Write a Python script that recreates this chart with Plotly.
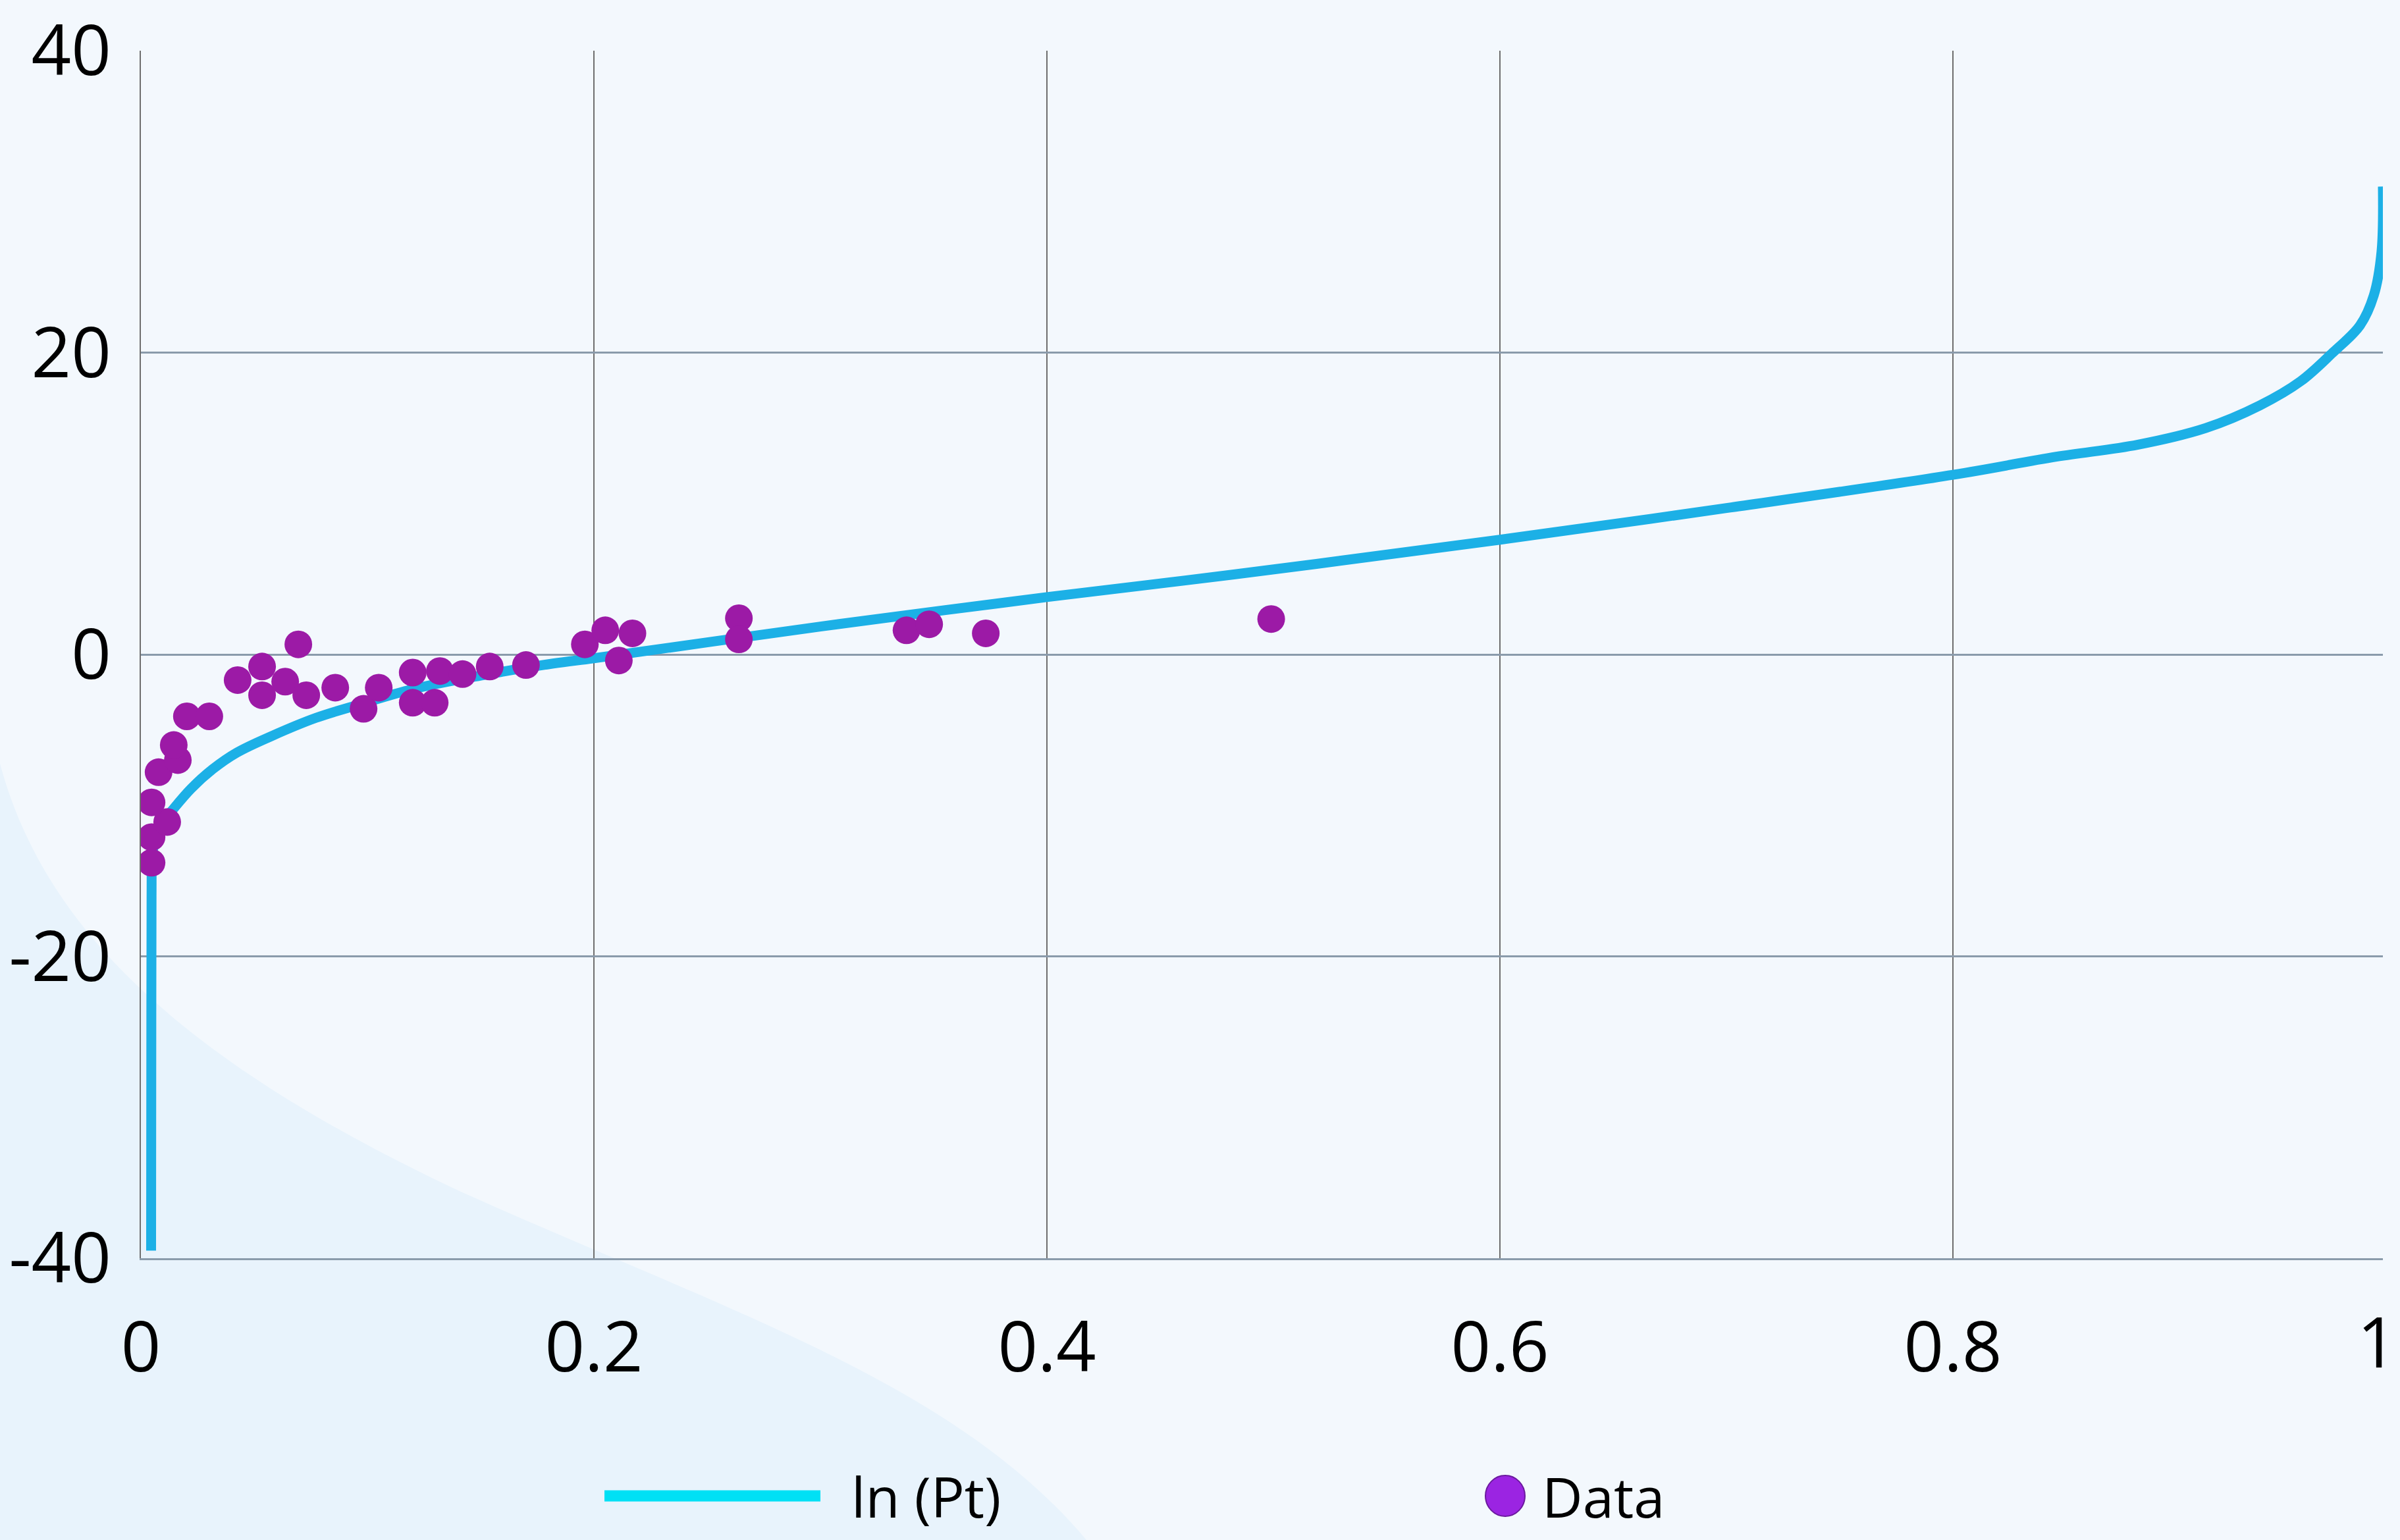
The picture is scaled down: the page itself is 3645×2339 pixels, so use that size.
import plotly.graph_objects as go

# ---- data ----
curve_x = [0.0045, 0.0046, 0.0047, 0.0050, 0.0065, 0.0090, 0.0134, 0.0221, 0.0317,
           0.0424, 0.0578, 0.0773, 0.0968, 0.12, 0.15, 0.182, 0.20, 0.25, 0.30,
           0.40, 0.461, 0.519, 0.60, 0.70, 0.80, 0.8456, 0.8817, 0.9116, 0.9355,
           0.9535, 0.9677, 0.9797, 0.9858, 0.9892, 0.9898]
curve_y = [-39.5, -25.0, -16.0, -13.5, -12.0, -11.2, -10.4, -8.9, -7.6,
           -6.5, -5.4, -4.2, -3.3, -2.3, -1.4, -0.6, -0.25, 0.8, 1.85,
           3.8, 4.9, 6.0, 7.6, 9.7, 11.9, 13.1, 13.9, 15.0, 16.5,
           18.1, 20.0, 21.8, 23.8, 26.7, 31.0]

data_x = [0.0047, 0.0047, 0.0116, 0.0047, 0.0078, 0.0163, 0.0145, 0.0203, 0.0302,
          0.0427, 0.0535, 0.0535, 0.0637, 0.0695, 0.073, 0.0858, 0.0983, 0.105,
          0.120, 0.120, 0.132, 0.1297, 0.142, 0.154, 0.170, 0.196, 0.205, 0.217,
          0.211, 0.264, 0.264, 0.338, 0.348, 0.373, 0.499]
data_y = [-13.8, -12.1, -11.1, -9.8, -7.8, -7.0, -6.0, -4.1, -4.1,
          -1.7, -0.8, -2.7, -1.8, 0.67, -2.7, -2.2, -3.6, -2.2,
          -1.2, -3.2, -1.1, -3.2, -1.3, -0.8, -0.7, 0.67, 1.6, 1.4,
          -0.4, 2.4, 1.0, 1.6, 2.0, 1.4, 2.35]

x_tick_vals = [0, 0.2, 0.4, 0.6, 0.8, 0.9898]
x_tick_text = ["0", "0.2", "0.4", "0.6", "0.8", "1"]
y_tick_vals = [-40, -20, 0, 20, 40]
y_tick_text = ["-40", "-20", "0", "20", "40"]
series_names = ["ln (Pt)", "Data"]

W, H = 3645, 2339
ML, MR, MT, MB = 214, 26, 77, 428
PW, PH = W - ML - MR, H - MT - MB
LEG_Y = 2272
XLAB_Y = 2036


def px_x(p):
    return (p - ML) / PW


def px_y(p):
    return (H - MB - p) / PH


fig = go.Figure()
fig.add_trace(go.Scatter(x=curve_x, y=curve_y, mode="lines", name=series_names[0],
                         line=dict(color="#1cb0e6", width=15, shape="spline", smoothing=1.0),
                         showlegend=False, cliponaxis=False))
fig.add_trace(go.Scatter(x=data_x, y=data_y, mode="markers", name=series_names[1],
                         marker=dict(color="#9c1aa6", size=42, line=dict(width=0)),
                         showlegend=False))

swoop = ("M {x0},{y0} C {c1x},{c1y} {c2x},{c2y} {mx},{my} "
         "C {c3x},{c3y} {c4x},{c4y} {ex},{ey} L {x0},{ey} Z").format(
    x0=px_x(0), y0=px_y(1160),
    c1x=px_x(60), c1y=px_y(1380), c2x=px_x(230), c2y=px_y(1590),
    mx=px_x(700), my=px_y(1810),
    c3x=px_x(1100), c3y=px_y(1990), c4x=px_x(1450), c4y=px_y(2100),
    ex=px_x(1650), ey=px_y(2339))

shapes = [
    dict(type="path", xref="paper", yref="paper", layer="below", path=swoop,
         fillcolor="#e8f3fc", line=dict(width=0)),
    # custom legend: line symbol
    dict(type="line", xref="paper", yref="paper",
         x0=px_x(918), x1=px_x(1246), y0=px_y(LEG_Y), y1=px_y(LEG_Y),
         line=dict(color="#00e0f5", width=17)),
    # custom legend: marker symbol
    dict(type="circle", xref="paper", yref="paper",
         x0=px_x(2256), x1=px_x(2316), y0=px_y(LEG_Y + 31), y1=px_y(LEG_Y - 31),
         fillcolor="#9b24e2", line=dict(color="#6b1a9e", width=2)),
]

annotations = [
    dict(text=series_names[0], xref="paper", yref="paper", x=px_x(1291), y=px_y(LEG_Y),
         xanchor="left", yanchor="middle", showarrow=False,
         font=dict(family="Open Sans", size=85, color="#000000")),
    dict(text=series_names[1], xref="paper", yref="paper", x=px_x(2340), y=px_y(LEG_Y),
         xanchor="left", yanchor="middle", showarrow=False,
         font=dict(family="Open Sans", size=85, color="#000000")),
    # last x tick label, kept fully inside the page at the right edge
    dict(text=x_tick_text[-1], xref="paper", yref="paper", x=px_x(W - 2), y=px_y(XLAB_Y),
         xanchor="right", yanchor="middle", showarrow=False,
         font=dict(family="Open Sans", size=106, color="#000000")),
]

fig.update_layout(
    width=W, height=H,
    margin=dict(l=ML, r=MR, t=MT, b=MB, pad=0, autoexpand=False),
    paper_bgcolor="#f3f8fd",
    plot_bgcolor="rgba(0,0,0,0)",
    font=dict(family="Open Sans", size=106, color="#000000"),
    showlegend=False,
    shapes=shapes,
    annotations=annotations,
    xaxis=dict(range=[0, 0.9898], tickmode="array", tickvals=x_tick_vals,
               ticktext=x_tick_text[:-1] + [""], showgrid=True, gridcolor="#6e6e6e",
               gridwidth=2, zeroline=False, showline=True, linecolor="#8a9bab",
               linewidth=3, mirror=False, ticks="", ticklabelstandoff=42,
               automargin=False,
               tickfont=dict(family="Open Sans", size=106, color="#000000")),
    yaxis=dict(range=[-40, 40], tickmode="array", tickvals=y_tick_vals,
               ticktext=y_tick_text, showgrid=True, gridcolor="#8a9bab", gridwidth=3,
               zeroline=False, showline=True, linecolor="#6e6e6e", linewidth=2,
               ticks="", ticklabelstandoff=22, automargin=False,
               ticklabeloverflow="allow",
               tickfont=dict(family="Open Sans", size=106, color="#000000")),
)

fig.write_html("out.html", config={"displayModeBar": False},
               post_script="document.body.style.margin='0';document.body.style.overflow='hidden';")
